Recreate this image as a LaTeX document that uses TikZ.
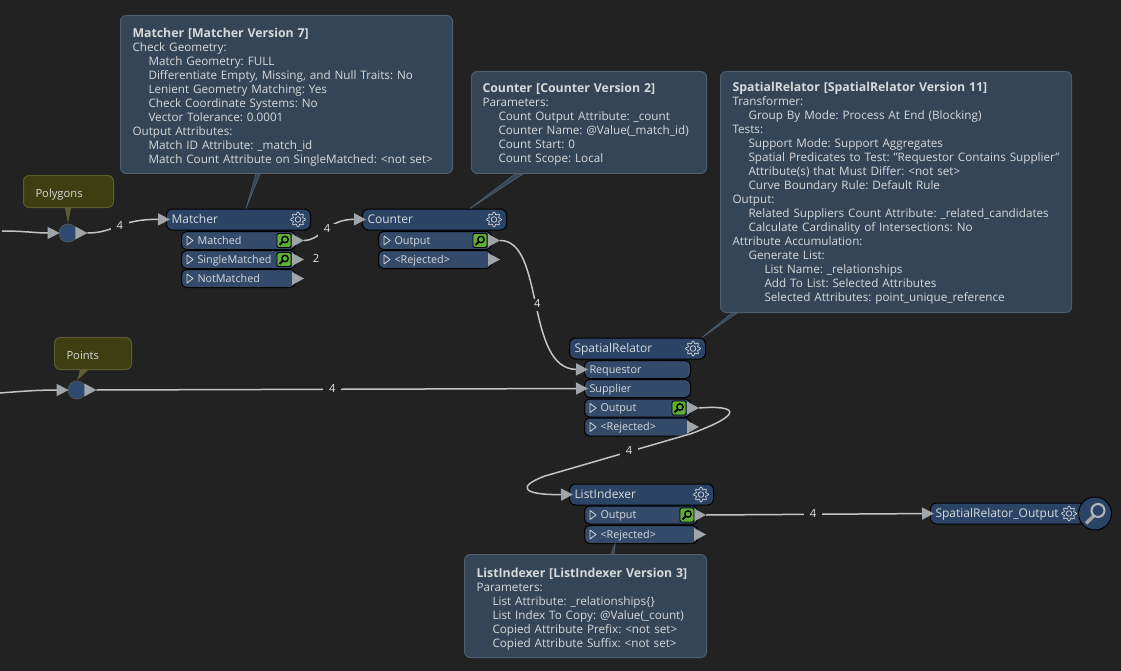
\documentclass[tikz,border=0pt]{standalone}
\usepackage{fontspec}
\setmainfont{Open Sans}
\usetikzlibrary{arrows.meta}

\definecolor{canvasbg}{HTML}{222222}
\definecolor{headblue}{HTML}{2B4466}
\definecolor{portblue}{HTML}{334A68}
\definecolor{tipfill}{HTML}{334556}
\definecolor{tipedge}{HTML}{4E5E6C}
\definecolor{notefill}{HTML}{3E3F10}
\definecolor{noteedge}{HTML}{5C5D30}
\definecolor{wiregray}{HTML}{C4C4C4}
\definecolor{headgray}{HTML}{A0A5A9}
\definecolor{inkgray}{HTML}{D6DADD}
\definecolor{inspectgreen}{HTML}{5DAF35}
\definecolor{junctionblue}{HTML}{2E4A70}

\newcommand{\ti}{\hspace*{16pt}}
\newcommand{\tiptitle}[2][12pt]{\rule{0pt}{#1}{\fontsize{12.3}{14}\selectfont\textbf{#2}}}
\newcommand{\outport}[5]{%
  \node[port=#4, outtext] (#1) at (#2,#3) {#5};
  \pic at (#1.west) {portmark};
  \pic at (#1.east) {porttip};
}

\tikzset{
  x=1pt, y=-1pt,
  head/.style={draw=black, line width=1pt, fill=headblue, rounded corners=6pt, anchor=west, minimum height=21pt,
    minimum width=#1, text width=#1-10pt, inner xsep=5pt, inner ysep=0pt, align=left, text=inkgray,
    text height=10pt, text depth=2pt, font={\fontsize{12}{14}\selectfont}},
  port/.style={draw=black, line width=1pt, fill=portblue, rounded corners=5pt, anchor=west, minimum height=18pt,
    minimum width=#1, text width=#1-10pt, inner xsep=5pt, inner ysep=0pt, align=left, text=inkgray,
    text height=9pt, text depth=2pt, font={\fontsize{10.8}{13}\selectfont}},
  outtext/.style={execute at begin node={\hspace*{11pt}}},
  tooltip/.style={draw=tipedge, line width=1pt, fill=tipfill, rounded corners=6pt, anchor=north west,
    minimum width=#1, text width=#1-24pt, inner xsep=12pt, inner ysep=0pt, align=left, text=inkgray,
    font={\fontsize{11.7}{14}\selectfont\frenchspacing}},
  tail/.style={draw=tipedge, line width=.7pt, fill=tipfill},
  note/.style={draw=noteedge, line width=1pt, fill=notefill, rounded corners=6pt, anchor=north west,
    minimum height=32pt, minimum width=#1, text width=#1-24pt, inner xsep=12pt, inner ysep=0pt, align=left,
    text=inkgray, text height=11pt, text depth=0pt, font={\fontsize{11.2}{13}\selectfont}},
  notetail/.style={fill=noteedge},
  junction/.style={circle, draw=black!50!headgray, line width=.8pt, fill=junctionblue, minimum size=18pt, inner sep=0pt},
  wire/.style={draw=wiregray, line width=1.5pt, -{Triangle[length=12pt, width=12pt, color=headgray]}},
  count/.style={fill=canvasbg, text=white!90!black, inner sep=0pt, minimum width=18pt, minimum height=12pt,
    text height=8pt, text depth=2pt, font={\fontsize{11.2}{13}\selectfont}},
  portmark/.pic={\draw[inkgray, line width=.8pt, line join=round] (6,-4.5) -- (12,0) -- (6,4.5) -- cycle;},
  porttip/.pic={\fill[headgray] (-4,-6.5) -- (8,0) -- (-4,6.5) -- cycle;},
  gear/.pic={
    \draw[inkgray, line width=.7pt] plot[smooth cycle, samples=40, domain=0:351] (\x:{6.2+1.3*cos(8*\x)});
    \draw[inkgray, line width=.7pt] (0,0) circle (2.8);
  },
  inspect/.pic={
    \draw[black, line width=.8pt, fill=inspectgreen, rounded corners=1.5pt] (-7,-7) rectangle (7,7);
    \draw[black, line width=1.4pt] (1,-1) circle (3.2);
    \draw[black, line width=2pt] (-1.4,1.4) -- (-4.5,4.5);
  },
}

\begin{document}
\begin{tikzpicture}
  \fill[canvasbg] (0,0) rectangle (1121,671);
  \useasboundingbox (0,0) rectangle (1121,671);

  % tooltips
  \node[tooltip=332pt, minimum height=158pt] (tipMatcher) at (120,15) {%
    \tiptitle[14pt]{Matcher [Matcher Version 7]}\\
    Check Geometry:\\
    \ti Match Geometry: FULL\\
    \ti Differentiate Empty, Missing, and Null Traits: No\\
    \ti Lenient Geometry Matching: Yes\\
    \ti Check Coordinate Systems: No\\
    \ti Vector Tolerance: 0.0001\\
    Output Attributes:\\
    \ti Match ID Attribute: \_match\_id\\
    \ti Match Count Attribute on SingleMatched: <not set>};
  \node[tooltip=235pt, inner xsep=11pt, text width=213pt, minimum height=102pt] (tipCounter) at (471,71) {%
    \tiptitle{Counter [Counter Version 2]}\\
    Parameters:\\
    \ti Count Output Attribute: \_count\\
    \ti Counter Name: @Value(\_match\_id)\\
    \ti Count Start: 0\\
    \ti Count Scope: Local};
  \node[tooltip=351pt, minimum height=241pt] (tipRelator) at (720,71) {%
    \tiptitle{SpatialRelator [SpatialRelator Version 11]}\\
    Transformer:\\
    \ti Group By Mode: Process At End (Blocking)\\
    Tests:\\
    \ti Support Mode: Support Aggregates\\
    \ti Spatial Predicates to Test: "Requestor Contains Supplier"\\
    \ti Attribute(s) that Must Differ: <not set>\\
    \ti Curve Boundary Rule: Default Rule\\
    Output:\\
    \ti Related Suppliers Count Attribute: \_related\_candidates\\
    \ti Calculate Cardinality of Intersections: No\\
    Attribute Accumulation:\\
    \ti Generate List:\\
    \ti\ti List Name: \_relationships\\
    \ti\ti Add To List: Selected Attributes\\
    \ti\ti Selected Attributes: point\_unique\_reference};
  \node[tooltip=242pt, minimum height=103pt] (tipIndexer) at (464,554) {%
    \tiptitle[15pt]{ListIndexer [ListIndexer Version 3]}\\
    Parameters:\\
    \ti List Attribute: \_relationships\{\}\\
    \ti List Index To Copy: @Value(\_count)\\
    \ti Copied Attribute Prefix: <not set>\\
    \ti Copied Attribute Suffix: <not set>};

  % transformers
  \node[head=144pt] (matcher) at (166,219.5) {Matcher};
  \pic at (298,219.5) {gear};
  \outport{matched}{181}{240.5}{114pt}{Matched}
  \outport{single}{181}{259.5}{114pt}{SingleMatched}
  \outport{notmatched}{181}{278.5}{114pt}{NotMatched}
  \pic at (284,240.5) {inspect};
  \pic at (284,259.5) {inspect};
  \node[count] (singlecount) at (316,259.5) {2};

  \node[head=144pt] (counter) at (362,219.5) {Counter};
  \pic at (494,219.5) {gear};
  \outport{counterout}{378}{240.5}{113pt}{Output}
  \outport{counterrej}{378}{259.5}{113pt}{<Rejected>}
  \pic at (480,240.5) {inspect};

  \node[head=136pt] (relator) at (569,348.5) {SpatialRelator};
  \pic at (693,348.5) {gear};
  \node[port=106pt] (requestor) at (584,369.5) {Requestor};
  \node[port=106pt] (supplier) at (584,388.5) {Supplier};
  \outport{relatorout}{584}{408}{106pt}{Output}
  \outport{relatorrej}{584}{427}{106pt}{<Rejected>}
  \pic at (679,408) {inspect};

  \node[head=144pt] (indexer) at (569,494.5) {ListIndexer};
  \pic at (701,494.5) {gear};
  \outport{indexerout}{584}{515}{113pt}{Output}
  \outport{indexerrej}{584}{534.5}{113pt}{<Rejected>}
  \pic at (687,515) {inspect};

  \node[head=155pt] (writer) at (930,513.5) {SpatialRelator\_Output};
  \pic at (1069,513.5) {gear};
  \node[circle, draw=black, line width=1pt, fill=headblue, minimum size=33pt, inner sep=0pt] (viewer) at (1095,513.5) {};
  \draw[headgray, line width=3.5pt] ([xshift=-1pt, yshift=-2pt]viewer.center) -- ([xshift=-9pt, yshift=-10pt]viewer.center);
  \draw[headgray!80!white, line width=2pt] ([xshift=3pt, yshift=3pt]viewer.center) circle (6.5pt);

  % tooltip tails
  \filldraw[tail] ([xshift=136pt]tipMatcher.south west) -- ([xshift=140pt]tipMatcher.south west) -- ([xshift=80pt]matcher.north west) -- cycle;
  \filldraw[tail] ([xshift=44pt]tipCounter.south west) -- ([xshift=52pt]tipCounter.south west) -- ([xshift=108pt]counter.north west) -- cycle;
  \filldraw[tail] ([xshift=12pt]tipRelator.south west) -- ([xshift=17pt]tipRelator.south west) -- ([xshift=133pt]relator.north west) -- cycle;
  \filldraw[tail] ([xshift=147pt]tipIndexer.north west) -- ([xshift=150pt]tipIndexer.north west) -- ([xshift=31pt]indexerrej.south west) -- cycle;

  % annotations and junctions
  \node[junction] (polygons) at (68,233) {};
  \node[junction] (points) at (77,390) {};
  \node[note=90pt] (notePolygons) at (23,175) {Polygons};
  \node[note=77pt] (notePoints) at (54,337) {Points};
  \fill[notetail] ([xshift=42pt]notePolygons.south west) -- ([xshift=48pt]notePolygons.south west) -- (polygons.north) -- cycle;
  \fill[notetail] ([xshift=26pt]notePoints.south west) -- ([xshift=34pt]notePoints.south west) -- (points.north) -- cycle;
  \pic at ([xshift=2pt]polygons.east) {porttip};
  \pic at ([xshift=2pt]points.east) {porttip};

  % connectors
  \coordinate (polyin) at (2,231);
  \coordinate (pointin) at (0,393);
  \draw[wire] (polyin) .. controls (25,231) and (35,233) .. ([xshift=1pt]polygons.west);
  \draw[wire] (pointin) .. controls (25,391) and (40,390) .. ([xshift=1pt]points.west);
  \draw[wire] ([xshift=10pt]polygons.east) .. controls (115,233) and (119,219) .. node[count] {4} ([xshift=4pt]matcher.west);
  \draw[wire] ([xshift=8pt]matched.east) .. controls (322,240) and (327,219) .. node[count] {4} ([xshift=4pt]counter.west);
  \draw[wire] ([xshift=8pt]counterout.east) .. controls (545,240) and (525,369) .. node[count] {4} ([xshift=4pt]requestor.west);
  \draw[wire] ([xshift=10pt]points.east) -- node[count, pos=.48] {4} ([xshift=4pt]supplier.west);
  \draw[wire] ([xshift=8pt]relatorout.east) .. controls (738,405) and (745,414) .. (690,434) -- node[count, pos=.42] {4} (545,476) .. controls (518,486) and (520,495) .. ([xshift=4pt]indexer.west);
  \draw[wire] ([xshift=8pt]indexerout.east) -- node[count, pos=.47] {4} ([xshift=4pt]writer.west);
\end{tikzpicture}
\end{document}
